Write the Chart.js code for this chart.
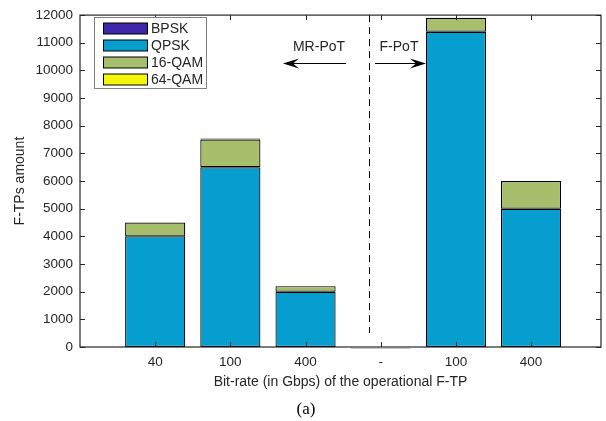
<!DOCTYPE html>
<html>
<head>
<meta charset="utf-8">
<script src="https://cdn.jsdelivr.net/npm/chart.js@4.4.0/dist/chart.umd.min.js"></script>
<style>
  html, body { margin: 0; padding: 0; background: #fff; }
  #wrap { width: 606px; height: 421px; }
</style>
</head>
<body>
<div id="wrap"><canvas id="chart" width="606" height="421"></canvas></div>
<script>
// categories sit at x = 1..6
const categories = ['40', '100', '400', '-', '100', '400'];
const seriesNames = ['BPSK', 'QPSK', '16-QAM', '64-QAM'];
const bpsk = [null, null, null, null, null, null];
const qpsk = [4000, 6500, 2000, 0, 11400, 5000];
const qam16 = [500, 1000, 200, null, 500, 1000];
const qam64 = [null, 40, null, null, null, null];
const yTicks = [0, 1000, 2000, 3000, 4000, 5000, 6000, 7000, 8000, 9000, 10000, 11000, 12000];

const colors = ['#3e26a8', '#069dcf', '#a7bf6c', '#f5f50a'];
const FONT = '"Liberation Sans", Arial, sans-serif';
const textColor = '#262626';

// Box, inward ticks, titles, annotations and legend
const decorations = {
    id: 'decorations',
    afterDatasetsDraw(chart) {
        const ctx = chart.ctx;
        const area = chart.chartArea;
        const x = chart.scales.x;
        const y = chart.scales.y;
        ctx.save();

        // dashed divider between the two groups
        const xd = Math.round(x.getPixelForValue(3.84)) + 0.5;
        ctx.strokeStyle = '#000';
        ctx.lineWidth = 1;
        ctx.setLineDash([7, 5]);
        ctx.beginPath();
        ctx.moveTo(xd, area.top);
        ctx.lineTo(xd, area.bottom - 14);
        ctx.stroke();
        ctx.setLineDash([]);

        // zero-height bar edge under "-"
        const xc = x.getPixelForValue(4);
        ctx.strokeStyle = '#c8c8c8';
        ctx.beginPath();
        ctx.moveTo(xc - 30, area.bottom + 1.5);
        ctx.lineTo(xc + 30, area.bottom + 1.5);
        ctx.stroke();

        // arrows
        const ay = 63.5;
        ctx.strokeStyle = '#000';
        function arrow(x0, x1) {
            const dir = Math.sign(x1 - x0);
            ctx.beginPath();
            ctx.moveTo(x0, ay);
            ctx.lineTo(x1 - dir * 6, ay);
            ctx.stroke();
            ctx.beginPath();
            ctx.moveTo(x1, ay);
            ctx.lineTo(x1 - dir * 16, ay - 5);
            ctx.lineTo(x1 - dir * 10, ay);
            ctx.lineTo(x1 - dir * 16, ay + 5);
            ctx.closePath();
            ctx.fillStyle = '#000';
            ctx.fill();
        }
        arrow(346, 283);
        arrow(375, 426);

        ctx.fillStyle = textColor;
        ctx.font = '14px ' + FONT;
        ctx.textAlign = 'center';
        ctx.textBaseline = 'middle';
        ctx.fillText('MR-PoT', 319, 47);
        ctx.fillText('F-PoT', 399, 47);

        // axes box
        ctx.strokeStyle = '#262626';
        ctx.lineWidth = 1.2;
        ctx.strokeRect(area.left, area.top, area.right - area.left, area.bottom - area.top);

        // inward ticks
        ctx.lineWidth = 1;
        ctx.beginPath();
        yTicks.forEach(v => {
            const py = Math.round(y.getPixelForValue(v)) + 0.5;
            ctx.moveTo(area.left, py); ctx.lineTo(area.left + 5, py);
            ctx.moveTo(area.right, py); ctx.lineTo(area.right - 5, py);
        });
        categories.forEach((c, i) => {
            const px = Math.round(x.getPixelForValue(i + 1)) + 0.5;
            ctx.moveTo(px, area.top); ctx.lineTo(px, area.top + 5);
            ctx.moveTo(px, area.bottom); ctx.lineTo(px, area.bottom - 5);
        });
        ctx.stroke();

        // axis titles
        ctx.fillStyle = textColor;
        ctx.font = '14px ' + FONT;
        ctx.fillText('Bit-rate (in Gbps) of the operational F-TP', (area.left + area.right) / 2, 382);
        ctx.save();
        ctx.translate(20, (area.top + area.bottom) / 2);
        ctx.rotate(-Math.PI / 2);
        ctx.fillText('F-TPs amount', 0, 0);
        ctx.restore();

        ctx.font = '17px "Liberation Serif", "Times New Roman", serif';
        ctx.fillStyle = '#000';
        ctx.fillText('(a)', 306, 410);

        // legend
        ctx.fillStyle = '#fff';
        ctx.fillRect(94.5, 17.5, 112, 71);
        ctx.strokeStyle = '#808080';
        ctx.lineWidth = 1;
        ctx.strokeRect(94.5, 17.5, 112, 71);
        seriesNames.forEach((name, i) => {
            const cy = 28.5 + i * 17;
            ctx.fillStyle = colors[i];
            ctx.fillRect(103, cy - 5.5, 44, 11);
            ctx.strokeStyle = '#000';
            ctx.strokeRect(103.5, cy - 5.5, 44, 11);
            ctx.fillStyle = textColor;
            ctx.font = '14px ' + FONT;
            ctx.textAlign = 'left';
            ctx.fillText(name, 151, cy + 0.5);
        });

        ctx.restore();
    }
};

const seriesData = [bpsk, qpsk, qam16, qam64];

new Chart(document.getElementById('chart'), {
    type: 'bar',
    data: {
        datasets: seriesNames.map((name, i) => ({
            label: name,
            data: seriesData[i].map((v, j) => ({ x: j + 1, y: v })),
            backgroundColor: colors[i],
            borderColor: '#000',
            borderWidth: 1.2,
            borderSkipped: false,
            categoryPercentage: 0.8,
            barPercentage: 1
        }))
    },
    options: {
        responsive: false,
        animation: false,
        layout: { padding: { left: 0, right: 5, top: 13, bottom: 0 } },
        plugins: {
            legend: { display: false },
            tooltip: { enabled: false }
        },
        scales: {
            x: {
                type: 'linear',
                stacked: true,
                offset: false,
                min: 0,
                max: 6.93,
                grid: { display: false, drawTicks: false },
                border: { display: false },
                afterBuildTicks(scale) { scale.ticks = categories.map((c, i) => ({ value: i + 1 })); },
                ticks: {
                    color: textColor,
                    font: { family: FONT, size: 13.5 },
                    padding: 7,
                    maxRotation: 0,
                    autoSkip: false,
                    callback: (v) => categories[Math.round(v) - 1]
                },
                afterFit(scale) { scale.height = 74; }
            },
            y: {
                stacked: true,
                min: 0,
                max: 12000,
                grid: { display: false, drawTicks: false },
                border: { display: false },
                afterBuildTicks(scale) { scale.ticks = yTicks.map(v => ({ value: v })); },
                ticks: {
                    color: textColor,
                    font: { family: FONT, size: 13.5 },
                    padding: 7,
                    callback: (v) => String(v)
                },
                afterFit(scale) { scale.width = 80; }
            }
        }
    },
    plugins: [decorations]
});
</script>
</body>
</html>
